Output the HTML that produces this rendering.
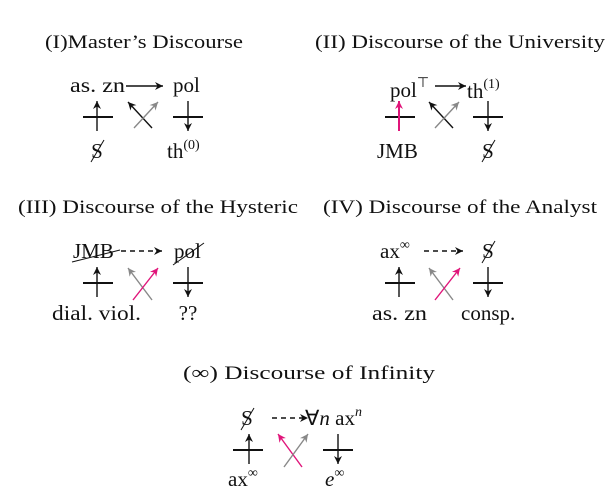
<!DOCTYPE html>
<html><head><meta charset="utf-8"><style>
html,body{margin:0;padding:0;background:#fff;}
svg{display:block;font-family:"Liberation Serif",serif;}
text{font-size:19px;fill:#111;}
.l{font-size:21px;}
</style></head><body>
<svg width="616" height="499" viewBox="0 0 616 499" xmlns="http://www.w3.org/2000/svg">
<defs>
<marker id="ab" markerWidth="10" markerHeight="10" refX="8" refY="5" orient="auto" markerUnits="userSpaceOnUse"><path d="M0,1 L8,5 L0,9 L2.5,5 Z" fill="#111"/></marker>
<marker id="ag" markerWidth="10" markerHeight="10" refX="8" refY="5" orient="auto" markerUnits="userSpaceOnUse"><path d="M0,1 L8,5 L0,9 L2.5,5 Z" fill="#888"/></marker>
<marker id="am" markerWidth="10" markerHeight="10" refX="8" refY="5" orient="auto" markerUnits="userSpaceOnUse"><path d="M0,1 L8,5 L0,9 L2.5,5 Z" fill="#e0157a"/></marker>
</defs>
<g stroke-width="1.4" fill="none">
<!-- Panel I -->
<line x1="126" y1="86" x2="163" y2="86" stroke="#111" marker-end="url(#ab)"/>
<line x1="83" y1="117" x2="113" y2="117" stroke="#111" stroke-width="2"/>
<line x1="97" y1="131" x2="97" y2="101" stroke="#111" marker-end="url(#ab)"/>
<line x1="173" y1="117" x2="203" y2="117" stroke="#111" stroke-width="2"/>
<line x1="188" y1="101" x2="188" y2="131" stroke="#111" marker-end="url(#ab)"/>
<line x1="152" y1="128" x2="128" y2="102" stroke="#111" marker-end="url(#ab)"/>
<line x1="134" y1="128" x2="158" y2="102" stroke="#888" marker-end="url(#ag)"/>
<!-- Panel II -->
<line x1="435" y1="86" x2="466" y2="86" stroke="#111" marker-end="url(#ab)"/>
<line x1="385" y1="117" x2="415" y2="117" stroke="#111" stroke-width="2"/>
<line x1="399" y1="131" x2="399" y2="101" stroke="#e0157a" stroke-width="2" marker-end="url(#am)"/>
<line x1="473" y1="117" x2="503" y2="117" stroke="#111" stroke-width="2"/>
<line x1="488" y1="101" x2="488" y2="131" stroke="#111" marker-end="url(#ab)"/>
<line x1="453" y1="128" x2="429" y2="102" stroke="#111" marker-end="url(#ab)"/>
<line x1="435" y1="128" x2="459" y2="102" stroke="#888" marker-end="url(#ag)"/>
<!-- Panel III -->
<line x1="121" y1="251" x2="162" y2="251" stroke="#111" stroke-dasharray="5,4" marker-end="url(#ab)"/>
<line x1="83" y1="283" x2="113" y2="283" stroke="#111" stroke-width="2"/>
<line x1="97" y1="297" x2="97" y2="267" stroke="#111" marker-end="url(#ab)"/>
<line x1="173" y1="283" x2="203" y2="283" stroke="#111" stroke-width="2"/>
<line x1="188" y1="267" x2="188" y2="297" stroke="#111" marker-end="url(#ab)"/>
<line x1="152" y1="300" x2="128" y2="268" stroke="#888" marker-end="url(#ag)"/>
<line x1="133" y1="300" x2="158" y2="268" stroke="#e0157a" marker-end="url(#am)"/>
<line x1="72" y1="262" x2="120" y2="250" stroke="#111" stroke-width="1"/>
<line x1="173" y1="265" x2="204" y2="243" stroke="#111" stroke-width="1"/>
<!-- Panel IV -->
<line x1="424" y1="251" x2="463" y2="251" stroke="#111" stroke-dasharray="5,4" marker-end="url(#ab)"/>
<line x1="385" y1="283" x2="415" y2="283" stroke="#111" stroke-width="2"/>
<line x1="399" y1="297" x2="399" y2="267" stroke="#111" marker-end="url(#ab)"/>
<line x1="473" y1="283" x2="503" y2="283" stroke="#111" stroke-width="2"/>
<line x1="488" y1="267" x2="488" y2="297" stroke="#111" marker-end="url(#ab)"/>
<line x1="453" y1="300" x2="429" y2="268" stroke="#888" marker-end="url(#ag)"/>
<line x1="435" y1="300" x2="460" y2="268" stroke="#e0157a" marker-end="url(#am)"/>
<!-- Panel V -->
<line x1="272" y1="418" x2="308" y2="418" stroke="#111" stroke-dasharray="5,4" marker-end="url(#ab)"/>
<line x1="233" y1="450" x2="263" y2="450" stroke="#111" stroke-width="2"/>
<line x1="249" y1="464" x2="249" y2="434" stroke="#111" marker-end="url(#ab)"/>
<line x1="323" y1="450" x2="353" y2="450" stroke="#111" stroke-width="2"/>
<line x1="338" y1="434" x2="338" y2="464" stroke="#111" marker-end="url(#ab)"/>
<line x1="302" y1="467" x2="278" y2="434" stroke="#e0157a" marker-end="url(#am)"/>
<line x1="284" y1="467" x2="308" y2="434" stroke="#888" marker-end="url(#ag)"/>
<!-- barred S slashes -->
<line x1="91" y1="162" x2="104" y2="140" stroke="#111" stroke-width="1"/>
<line x1="482" y1="162" x2="495" y2="140" stroke="#111" stroke-width="1"/>
<line x1="482" y1="263" x2="495" y2="241" stroke="#111" stroke-width="1"/>
<line x1="241" y1="430" x2="254" y2="408" stroke="#111" stroke-width="1"/>
</g>
<!-- Titles -->
<text x="45" y="48" textLength="198" lengthAdjust="spacingAndGlyphs">(I)Master’s Discourse</text>
<text x="315" y="48" textLength="290" lengthAdjust="spacingAndGlyphs">(II) Discourse of the University</text>
<text x="18" y="213" textLength="280" lengthAdjust="spacingAndGlyphs">(III) Discourse of the Hysteric</text>
<text x="323" y="213" textLength="274" lengthAdjust="spacingAndGlyphs">(IV) Discourse of the Analyst</text>
<text x="183" y="379" textLength="252" lengthAdjust="spacingAndGlyphs">(∞) Discourse of Infinity</text>
<!-- Panel I labels -->
<text class="l" x="70" y="92" textLength="55" lengthAdjust="spacingAndGlyphs">as. zn</text>
<text class="l" x="173" y="92">pol</text>
<text class="l" x="97" y="158" text-anchor="middle">S</text>
<text class="l" x="167" y="158">th<tspan font-size="14" dy="-9">(0)</tspan></text>
<!-- Panel II -->
<text class="l" x="390" y="97">pol<tspan font-size="14" dy="-10">⊤</tspan></text>
<text class="l" x="467" y="98">th<tspan font-size="14" dy="-10">(1)</tspan></text>
<text class="l" x="377" y="158">JMB</text>
<text class="l" x="488" y="158" text-anchor="middle">S</text>
<!-- Panel III -->
<text class="l" x="73" y="258">JMB</text>
<text class="l" x="174" y="258">pol</text>
<text class="l" x="52" y="320" textLength="89" lengthAdjust="spacingAndGlyphs">dial. viol.</text>
<text class="l" x="188" y="320" text-anchor="middle">??</text>
<!-- Panel IV -->
<text class="l" x="380" y="258">ax<tspan font-size="14" dy="-9">∞</tspan></text>
<text class="l" x="488" y="258" text-anchor="middle">S</text>
<text class="l" x="372" y="320" textLength="55" lengthAdjust="spacingAndGlyphs">as. zn</text>
<text class="l" x="461" y="320">consp.</text>
<!-- Panel V -->
<text class="l" x="247" y="425" text-anchor="middle">S</text>
<text class="l" x="305" y="425">∀<tspan font-style="italic">n</tspan> ax<tspan font-size="14" dy="-9" font-style="italic">n</tspan></text>
<text class="l" x="228" y="486">ax<tspan font-size="14" dy="-9">∞</tspan></text>
<text class="l" x="325" y="486" font-style="italic">e<tspan font-size="14" dy="-9" font-style="normal">∞</tspan></text>
</svg>
</body></html>
